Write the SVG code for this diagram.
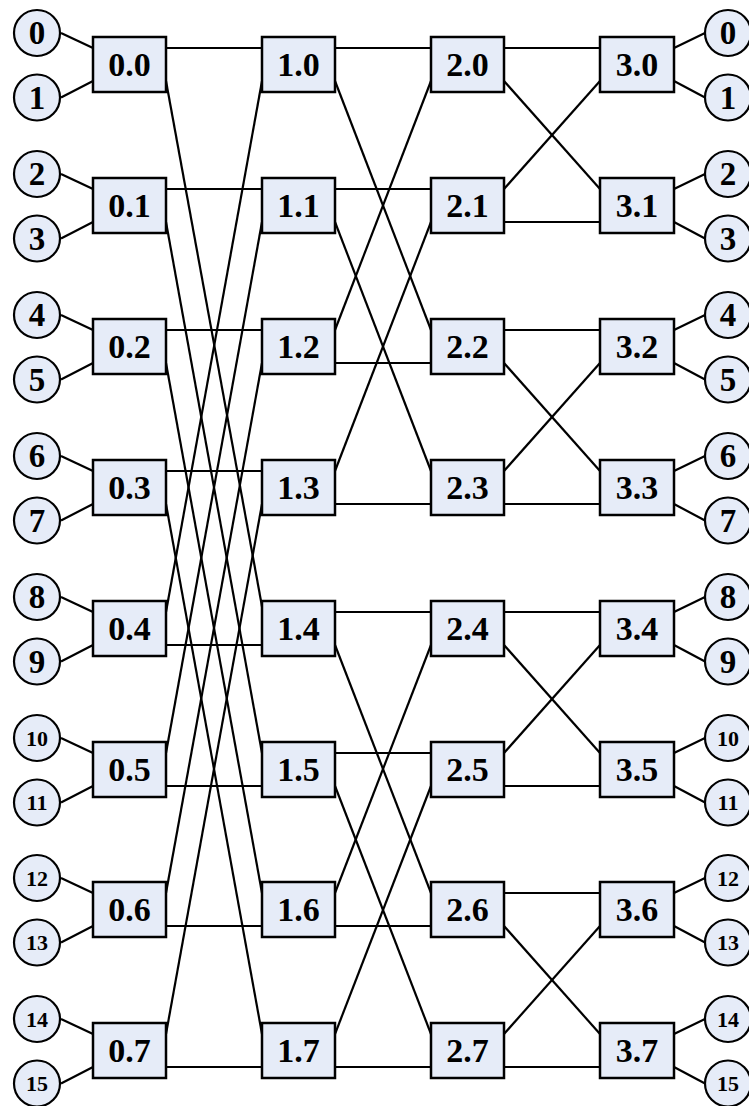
<svg xmlns="http://www.w3.org/2000/svg" width="749" height="1106" viewBox="0 0 749 1106">
<style>
.bg{fill:#ffffff}
.box{fill:#E6ECF8;stroke:#000;stroke-width:2.5}
.cir{fill:#E6ECF8;stroke:#000;stroke-width:2.2}
.lbl{font-family:'Liberation Serif','Times New Roman',serif;font-weight:700;font-size:34px;text-anchor:middle;fill:#000}
.n1{font-family:'Liberation Serif','Times New Roman',serif;font-weight:700;font-size:33px;text-anchor:middle;fill:#000}
.n2{font-family:'Liberation Serif','Times New Roman',serif;font-weight:700;font-size:22px;text-anchor:middle;fill:#000}
#connectors line{stroke:#000;stroke-width:2.2;fill:none}
</style>
<rect class="bg" x="0" y="0" width="749" height="1106"/>
<g id="connectors">
<line x1="61" y1="33" x2="93" y2="48"/><line x1="61" y1="97.5" x2="93" y2="81"/>
<line x1="61" y1="174" x2="93" y2="189"/><line x1="61" y1="238.5" x2="93" y2="222"/>
<line x1="61" y1="315" x2="93" y2="330"/><line x1="61" y1="379.5" x2="93" y2="363"/>
<line x1="61" y1="456" x2="93" y2="471"/><line x1="61" y1="520.5" x2="93" y2="504"/>
<line x1="61" y1="597" x2="93" y2="612"/><line x1="61" y1="661.5" x2="93" y2="645"/>
<line x1="61" y1="738" x2="93" y2="753"/><line x1="61" y1="802.5" x2="93" y2="786"/>
<line x1="61" y1="878" x2="93" y2="893"/><line x1="61" y1="942.5" x2="93" y2="926"/>
<line x1="61" y1="1019" x2="93" y2="1034"/><line x1="61" y1="1083.5" x2="93" y2="1067"/>
<line x1="166" y1="48" x2="262" y2="48"/><line x1="166" y1="81" x2="263" y2="612"/><line x1="166" y1="612" x2="262" y2="81"/><line x1="166" y1="645" x2="262" y2="645"/>
<line x1="166" y1="189" x2="262" y2="189"/><line x1="166" y1="222" x2="262" y2="753"/><line x1="166" y1="753" x2="262" y2="222"/><line x1="166" y1="786" x2="262" y2="786"/>
<line x1="166" y1="330" x2="262" y2="330"/><line x1="166" y1="363" x2="262" y2="893"/><line x1="166" y1="893" x2="262" y2="363"/><line x1="166" y1="926" x2="262" y2="926"/>
<line x1="166" y1="471" x2="262" y2="471"/><line x1="166" y1="504" x2="262" y2="1034"/><line x1="166" y1="1034" x2="262" y2="504"/><line x1="166" y1="1067" x2="262" y2="1067"/>
<line x1="335" y1="48" x2="431" y2="48"/><line x1="335" y1="81" x2="431" y2="330"/><line x1="335" y1="330" x2="431" y2="81"/><line x1="335" y1="363" x2="431" y2="363"/>
<line x1="335" y1="189" x2="431" y2="189"/><line x1="335" y1="222" x2="431" y2="471"/><line x1="335" y1="471" x2="431" y2="222"/><line x1="335" y1="504" x2="431" y2="504"/>
<line x1="335" y1="612" x2="431" y2="612"/><line x1="335" y1="645" x2="431" y2="893"/><line x1="335" y1="893" x2="431" y2="645"/><line x1="335" y1="926" x2="431" y2="926"/>
<line x1="335" y1="753" x2="431" y2="753"/><line x1="335" y1="786" x2="431" y2="1034"/><line x1="335" y1="1034" x2="431" y2="786"/><line x1="335" y1="1067" x2="431" y2="1067"/>
<line x1="504" y1="48" x2="600" y2="48"/><line x1="504" y1="81" x2="600" y2="189"/><line x1="504" y1="189" x2="600" y2="81"/><line x1="504" y1="222" x2="600" y2="222"/>
<line x1="504" y1="330" x2="600" y2="330"/><line x1="504" y1="363" x2="600" y2="471"/><line x1="504" y1="471" x2="600" y2="363"/><line x1="504" y1="504" x2="600" y2="504"/>
<line x1="504" y1="612" x2="600" y2="612"/><line x1="504" y1="645" x2="600" y2="753"/><line x1="504" y1="753" x2="600" y2="645"/><line x1="504" y1="786" x2="600" y2="786"/>
<line x1="504" y1="893" x2="600" y2="893"/><line x1="504" y1="926" x2="600" y2="1034"/><line x1="504" y1="1034" x2="600" y2="926"/><line x1="504" y1="1067" x2="600" y2="1067"/>
<line x1="674" y1="48" x2="705" y2="33"/><line x1="674" y1="81" x2="705" y2="97.5"/>
<line x1="674" y1="189" x2="705" y2="174"/><line x1="674" y1="222" x2="705" y2="238.5"/>
<line x1="674" y1="330" x2="705" y2="315"/><line x1="674" y1="363" x2="705" y2="379.5"/>
<line x1="674" y1="471" x2="705" y2="456"/><line x1="674" y1="504" x2="705" y2="520.5"/>
<line x1="674" y1="612" x2="705" y2="597"/><line x1="674" y1="645" x2="705" y2="661.5"/>
<line x1="674" y1="753" x2="705" y2="738"/><line x1="674" y1="786" x2="705" y2="802.5"/>
<line x1="674" y1="893" x2="705" y2="878"/><line x1="674" y1="926" x2="705" y2="942.5"/>
<line x1="674" y1="1034" x2="705" y2="1019"/><line x1="674" y1="1067" x2="705" y2="1083.5"/>
</g>
<g id="in0"><circle class="cir" cx="37" cy="33" r="23"/><text class="n1" x="37" y="44">0</text></g>
<g id="in1"><circle class="cir" cx="37" cy="97.5" r="23"/><text class="n1" x="37" y="108.5">1</text></g>
<g id="in2"><circle class="cir" cx="37" cy="174" r="23"/><text class="n1" x="37" y="185">2</text></g>
<g id="in3"><circle class="cir" cx="37" cy="238.5" r="23"/><text class="n1" x="37" y="249.5">3</text></g>
<g id="in4"><circle class="cir" cx="37" cy="315" r="23"/><text class="n1" x="37" y="326">4</text></g>
<g id="in5"><circle class="cir" cx="37" cy="379.5" r="23"/><text class="n1" x="37" y="390.5">5</text></g>
<g id="in6"><circle class="cir" cx="37" cy="456" r="23"/><text class="n1" x="37" y="467">6</text></g>
<g id="in7"><circle class="cir" cx="37" cy="520.5" r="23"/><text class="n1" x="37" y="531.5">7</text></g>
<g id="in8"><circle class="cir" cx="37" cy="597" r="23"/><text class="n1" x="37" y="608">8</text></g>
<g id="in9"><circle class="cir" cx="37" cy="661.5" r="23"/><text class="n1" x="37" y="672.5">9</text></g>
<g id="in10"><circle class="cir" cx="37" cy="738" r="23"/><text class="n2" x="37" y="745.5">10</text></g>
<g id="in11"><circle class="cir" cx="37" cy="802.5" r="23"/><text class="n2" x="37" y="810">11</text></g>
<g id="in12"><circle class="cir" cx="37" cy="878" r="23"/><text class="n2" x="37" y="885.5">12</text></g>
<g id="in13"><circle class="cir" cx="37" cy="942.5" r="23"/><text class="n2" x="37" y="950">13</text></g>
<g id="in14"><circle class="cir" cx="37" cy="1019" r="23"/><text class="n2" x="37" y="1026.5">14</text></g>
<g id="in15"><circle class="cir" cx="37" cy="1083.5" r="23"/><text class="n2" x="37" y="1091">15</text></g>
<g id="out0"><circle class="cir" cx="728" cy="33" r="23"/><text class="n1" x="728" y="44">0</text></g>
<g id="out1"><circle class="cir" cx="728" cy="97.5" r="23"/><text class="n1" x="728" y="108.5">1</text></g>
<g id="out2"><circle class="cir" cx="728" cy="174" r="23"/><text class="n1" x="728" y="185">2</text></g>
<g id="out3"><circle class="cir" cx="728" cy="238.5" r="23"/><text class="n1" x="728" y="249.5">3</text></g>
<g id="out4"><circle class="cir" cx="728" cy="315" r="23"/><text class="n1" x="728" y="326">4</text></g>
<g id="out5"><circle class="cir" cx="728" cy="379.5" r="23"/><text class="n1" x="728" y="390.5">5</text></g>
<g id="out6"><circle class="cir" cx="728" cy="456" r="23"/><text class="n1" x="728" y="467">6</text></g>
<g id="out7"><circle class="cir" cx="728" cy="520.5" r="23"/><text class="n1" x="728" y="531.5">7</text></g>
<g id="out8"><circle class="cir" cx="728" cy="597" r="23"/><text class="n1" x="728" y="608">8</text></g>
<g id="out9"><circle class="cir" cx="728" cy="661.5" r="23"/><text class="n1" x="728" y="672.5">9</text></g>
<g id="out10"><circle class="cir" cx="728" cy="738" r="23"/><text class="n2" x="728" y="745.5">10</text></g>
<g id="out11"><circle class="cir" cx="728" cy="802.5" r="23"/><text class="n2" x="728" y="810">11</text></g>
<g id="out12"><circle class="cir" cx="728" cy="878" r="23"/><text class="n2" x="728" y="885.5">12</text></g>
<g id="out13"><circle class="cir" cx="728" cy="942.5" r="23"/><text class="n2" x="728" y="950">13</text></g>
<g id="out14"><circle class="cir" cx="728" cy="1019" r="23"/><text class="n2" x="728" y="1026.5">14</text></g>
<g id="out15"><circle class="cir" cx="728" cy="1083.5" r="23"/><text class="n2" x="728" y="1091">15</text></g>
<g id="s0_0"><rect class="box" x="93" y="37" width="73" height="55"/><text class="lbl" x="129.5" y="76">0.0</text></g>
<g id="s0_1"><rect class="box" x="93" y="178" width="73" height="55"/><text class="lbl" x="129.5" y="217">0.1</text></g>
<g id="s0_2"><rect class="box" x="93" y="319" width="73" height="55"/><text class="lbl" x="129.5" y="358">0.2</text></g>
<g id="s0_3"><rect class="box" x="93" y="460" width="73" height="55"/><text class="lbl" x="129.5" y="499">0.3</text></g>
<g id="s0_4"><rect class="box" x="93" y="601" width="73" height="55"/><text class="lbl" x="129.5" y="640">0.4</text></g>
<g id="s0_5"><rect class="box" x="93" y="742" width="73" height="55"/><text class="lbl" x="129.5" y="781">0.5</text></g>
<g id="s0_6"><rect class="box" x="93" y="882" width="73" height="55"/><text class="lbl" x="129.5" y="921">0.6</text></g>
<g id="s0_7"><rect class="box" x="93" y="1023" width="73" height="55"/><text class="lbl" x="129.5" y="1062">0.7</text></g>
<g id="s1_0"><rect class="box" x="262" y="37" width="73" height="55"/><text class="lbl" x="298.5" y="76">1.0</text></g>
<g id="s1_1"><rect class="box" x="262" y="178" width="73" height="55"/><text class="lbl" x="298.5" y="217">1.1</text></g>
<g id="s1_2"><rect class="box" x="262" y="319" width="73" height="55"/><text class="lbl" x="298.5" y="358">1.2</text></g>
<g id="s1_3"><rect class="box" x="262" y="460" width="73" height="55"/><text class="lbl" x="298.5" y="499">1.3</text></g>
<g id="s1_4"><rect class="box" x="262" y="601" width="73" height="55"/><text class="lbl" x="298.5" y="640">1.4</text></g>
<g id="s1_5"><rect class="box" x="262" y="742" width="73" height="55"/><text class="lbl" x="298.5" y="781">1.5</text></g>
<g id="s1_6"><rect class="box" x="262" y="882" width="73" height="55"/><text class="lbl" x="298.5" y="921">1.6</text></g>
<g id="s1_7"><rect class="box" x="262" y="1023" width="73" height="55"/><text class="lbl" x="298.5" y="1062">1.7</text></g>
<g id="s2_0"><rect class="box" x="431" y="37" width="73" height="55"/><text class="lbl" x="467.5" y="76">2.0</text></g>
<g id="s2_1"><rect class="box" x="431" y="178" width="73" height="55"/><text class="lbl" x="467.5" y="217">2.1</text></g>
<g id="s2_2"><rect class="box" x="431" y="319" width="73" height="55"/><text class="lbl" x="467.5" y="358">2.2</text></g>
<g id="s2_3"><rect class="box" x="431" y="460" width="73" height="55"/><text class="lbl" x="467.5" y="499">2.3</text></g>
<g id="s2_4"><rect class="box" x="431" y="601" width="73" height="55"/><text class="lbl" x="467.5" y="640">2.4</text></g>
<g id="s2_5"><rect class="box" x="431" y="742" width="73" height="55"/><text class="lbl" x="467.5" y="781">2.5</text></g>
<g id="s2_6"><rect class="box" x="431" y="882" width="73" height="55"/><text class="lbl" x="467.5" y="921">2.6</text></g>
<g id="s2_7"><rect class="box" x="431" y="1023" width="73" height="55"/><text class="lbl" x="467.5" y="1062">2.7</text></g>
<g id="s3_0"><rect class="box" x="600" y="37" width="74" height="55"/><text class="lbl" x="637" y="76">3.0</text></g>
<g id="s3_1"><rect class="box" x="600" y="178" width="74" height="55"/><text class="lbl" x="637" y="217">3.1</text></g>
<g id="s3_2"><rect class="box" x="600" y="319" width="74" height="55"/><text class="lbl" x="637" y="358">3.2</text></g>
<g id="s3_3"><rect class="box" x="600" y="460" width="74" height="55"/><text class="lbl" x="637" y="499">3.3</text></g>
<g id="s3_4"><rect class="box" x="600" y="601" width="74" height="55"/><text class="lbl" x="637" y="640">3.4</text></g>
<g id="s3_5"><rect class="box" x="600" y="742" width="74" height="55"/><text class="lbl" x="637" y="781">3.5</text></g>
<g id="s3_6"><rect class="box" x="600" y="882" width="74" height="55"/><text class="lbl" x="637" y="921">3.6</text></g>
<g id="s3_7"><rect class="box" x="600" y="1023" width="74" height="55"/><text class="lbl" x="637" y="1062">3.7</text></g>
</svg>
